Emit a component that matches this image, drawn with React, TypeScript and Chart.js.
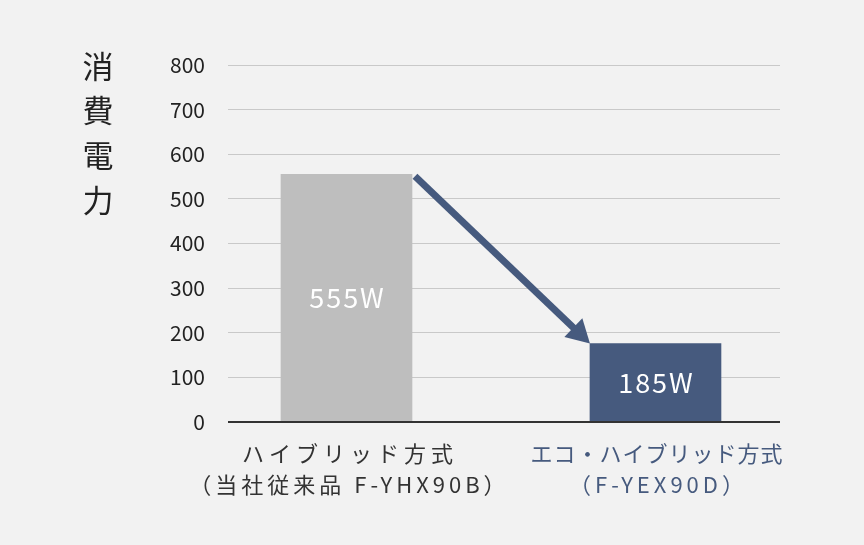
import React, { useEffect, useRef } from "react";
import { Chart, registerables, Plugin } from "chart.js";

Chart.register(...registerables);

// chart data
const positions = [0, 1];
const wattage = [555, 176];
const valueLabels = ["555W", "185W"];
const categoryLines = [
  ["ハイブリッド方式", "（当社従来品 F-YHX90B）"],
  ["エコ・ハイブリッド方式", "（F-YEX90D）"],
];
const yTicks = [0, 100, 200, 300, 400, 500, 600, 700, 800];
const axisTitle = ["消", "費", "電", "力"];

const FONT = "'Noto Sans CJK JP', 'Noto Sans', sans-serif";
const BLUE = "#465a7e";
const GRAY = "#bebebe";
const labelColors = ["#333333", BLUE];
const labelSpacing = [
  [5, 4],
  [1, 4],
];

const overlay: Plugin<"bar"> = {
  id: "overlay",
  afterDatasetsDraw(chart) {
    const { ctx, chartArea } = chart;
    const yScale = chart.scales.y;
    const xScale = chart.scales.x;
    const bars = chart.getDatasetMeta(0).data.map((el: any) =>
      el.getProps(["x", "y", "base", "width"], true)
    );
    ctx.save();

    // zero line over the bars
    const zeroY = yScale.getPixelForValue(0);
    ctx.strokeStyle = "#333333";
    ctx.lineWidth = 2;
    ctx.beginPath();
    ctx.moveTo(chartArea.left, zeroY);
    ctx.lineTo(chartArea.right, zeroY);
    ctx.stroke();

    // values inside bars
    ctx.fillStyle = "#ffffff";
    ctx.font = `27px ${FONT}`;
    ctx.textAlign = "center";
    ctx.textBaseline = "middle";
    (ctx as any).letterSpacing = "2px";
    bars.forEach((b: any, i: number) => {
      ctx.fillText(valueLabels[i], b.x + 1, (b.y + b.base) / 2);
    });

    // arrow from first bar to second
    const a = bars[0];
    const b = bars[1];
    const sx = a.x + a.width / 2 + 3;
    const sy = a.y + 2;
    const ex = b.x - b.width / 2;
    const ey = b.y;
    const ang = Math.atan2(ey - sy, ex - sx);
    const cos = Math.cos(ang);
    const sin = Math.sin(ang);
    const headLen = 23;
    const headW = 13;
    const hx = ex - headLen * cos;
    const hy = ey - headLen * sin;
    ctx.strokeStyle = BLUE;
    ctx.fillStyle = BLUE;
    ctx.lineWidth = 7;
    ctx.lineCap = "butt";
    ctx.beginPath();
    ctx.moveTo(sx, sy);
    ctx.lineTo(hx + 2 * cos, hy + 2 * sin);
    ctx.stroke();
    ctx.beginPath();
    ctx.moveTo(ex, ey);
    ctx.lineTo(hx - headW * sin, hy + headW * cos);
    ctx.lineTo(hx + headW * sin, hy - headW * cos);
    ctx.closePath();
    ctx.fill();

    // category labels
    ctx.font = `22px ${FONT}`;
    categoryLines.forEach((lines, i) => {
      const cx = xScale.getPixelForValue(positions[i]);
      ctx.fillStyle = labelColors[i];
      lines.forEach((line, j) => {
        const sp = labelSpacing[i][j];
        (ctx as any).letterSpacing = `${sp}px`;
        ctx.fillText(line, cx + 1 + sp / 2, zeroY + 32 + j * 31);
      });
    });

    // vertical axis title
    (ctx as any).letterSpacing = "0px";
    ctx.fillStyle = "#222222";
    ctx.font = `31px ${FONT}`;
    axisTitle.forEach((ch, i) => {
      ctx.fillText(ch, chartArea.left - 130, chartArea.top + 1 + i * 44.7);
    });

    ctx.restore();
  },
};

const App: React.FC = () => {
  const canvasRef = useRef<HTMLCanvasElement | null>(null);

  useEffect(() => {
    if (!canvasRef.current) return;
    const chart = new Chart(canvasRef.current, {
      type: "bar",
      data: {
        datasets: [
          {
            data: positions.map((x, i) => ({ x, y: wattage[i] })),
            backgroundColor: [GRAY, BLUE],
            barThickness: 131,
          },
        ],
      },
      options: {
        animation: false,
        responsive: true,
        maintainAspectRatio: false,
        layout: { padding: { left: 0, right: 84, top: 65, bottom: 123 } },
        plugins: {
          legend: { display: false },
          tooltip: { enabled: false },
        },
        scales: {
          x: {
            type: "linear",
            offset: false,
            min: -0.3835,
            max: 1.403,
            display: false,
          },
          y: {
            min: 0,
            max: 800,
            afterBuildTicks: (scale: any) => {
              scale.ticks = yTicks.map((v) => ({ value: v }));
            },
            afterFit: (scale: any) => {
              scale.width = 228;
            },
            border: { display: false },
            grid: {
              drawTicks: false,
              color: (c: any) => (c.tick && c.tick.value === 0 ? "#333333" : "#c9c9c9"),
              lineWidth: 1,
            },
            ticks: {
              padding: 23,
              color: "#222222",
              font: { family: FONT, size: 21 },
            },
          },
        },
      },
      plugins: [overlay],
    });
    return () => chart.destroy();
  }, []);

  return (
    <div
      style={{
        position: "fixed",
        left: 0,
        top: 0,
        width: "864px",
        height: "545px",
        background: "#f2f2f2",
      }}
    >
      <canvas ref={canvasRef}></canvas>
    </div>
  );
};

export default App;
